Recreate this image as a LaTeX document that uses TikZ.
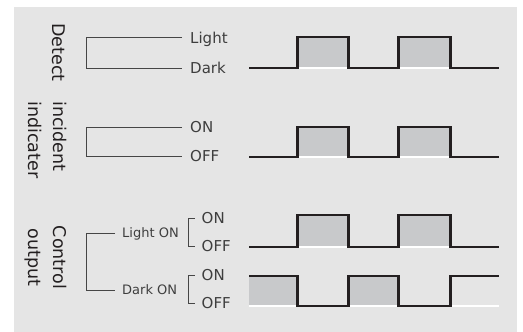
\documentclass[tikz,border=0pt]{standalone}
\usepackage{fontspec}
\setmainfont{DejaVu Sans}
\usetikzlibrary{calc}
\definecolor{panel}{RGB}{229,229,229}
\definecolor{pulsecol}{RGB}{200,201,203}
\definecolor{wavecol}{RGB}{35,31,32}
\definecolor{lblcol}{RGB}{62,62,62}
\definecolor{brkcol}{RGB}{70,70,70}
\begin{document}
\begin{tikzpicture}[x=1pt,y=-1pt,
        wave/.style={line width=2.3pt, draw=wavecol},
        pulse/.style={fill=pulsecol},
        base/.style={draw=white, line width=1.4pt},
        brk/.style={draw=brkcol, line width=0.8pt},
        lbl/.style={inner sep=0pt, anchor=west, text=lblcol,
        text height=11pt, text depth=0pt, font=\fontsize{15}{15}\selectfont},
        sublbl/.style={lbl, text height=9.5pt, font=\fontsize{13}{13}\selectfont},
        title/.style={rotate=-90, inner sep=0pt, align=center, text=wavecol,
        font=\fontsize{17.5}{25}\selectfont}]
      \def\tick#1#2{([xshift=-#2pt]#1.west)}
      \useasboundingbox (0,0) rectangle (523,332);
      \fill[panel] (14,7) rectangle (517,332);
      \node[title,anchor=west] (detect) at (58.5,23) {Detect};
      \node[title,align=left,anchor=west] (incident) at (47.5,101) {incident\\indicater};
      \node[title] (control) at (45.5,257.5) {Control\\output};
      \node[lbl] (light) at (190,37.5) {Light};
      \node[lbl] (dark) at (190,68) {Dark};
      \node[lbl] (on) at (190,127) {ON};
      \node[lbl] (off) at (190,156) {OFF};
      \node[sublbl] (lighton) at (122,233) {Light ON};
      \node[sublbl] (darkon) at (122,290) {Dark ON};
      \node[lbl] (lon) at (201.5,218) {ON};
      \node[lbl] (loff) at (201.5,246) {OFF};
      \node[lbl] (don) at (201.5,275) {ON};
      \node[lbl] (doff) at (201.5,303) {OFF};
      \coordinate (trunk) at (86,0);
      \draw[brk] \tick{light}{8} -- (trunk |- light.west) -- (trunk |- dark.west) -- \tick{dark}{8};
      \draw[brk] \tick{on}{8} -- (trunk |- on.west) -- (trunk |- off.west) -- \tick{off}{8};
      \draw[brk] \tick{lighton}{7} -- (trunk |- lighton.west) -- (trunk |- darkon.west) -- \tick{darkon}{7};
      \draw[brk] \tick{lon}{7} -- ++(-6,0) |- \tick{loff}{7};
      \draw[brk] \tick{don}{7} -- ++(-6,0) |- \tick{doff}{7};
      \foreach \lo/\hi in {68/37,157/127,247/215}{
        \fill[pulse] (297.5,\lo) rectangle (348.5,\hi) (398.5,\lo) rectangle (450.5,\hi);
        \draw[base] (297.5,\lo) -- (348.5,\lo) (398.5,\lo) -- (450.5,\lo);
        \draw[wave] (249,\lo) -| (297.5,\hi) -| (348.5,\lo) -| (398.5,\hi) -| (450.5,\lo) -- (498.5,\lo);
      }
      \fill[pulse] (249,306) rectangle (297.5,276) (348.5,306) rectangle (398.5,276);
      \draw[base] (249,306) -- (297.5,306) (348.5,306) -- (398.5,306) (450.5,306) -- (498.5,306);
      \draw[wave] (249,276) -| (297.5,306) -| (348.5,276) -| (398.5,306) -| (450.5,276) -- (498.5,276);
    \end{tikzpicture}
\end{document}
